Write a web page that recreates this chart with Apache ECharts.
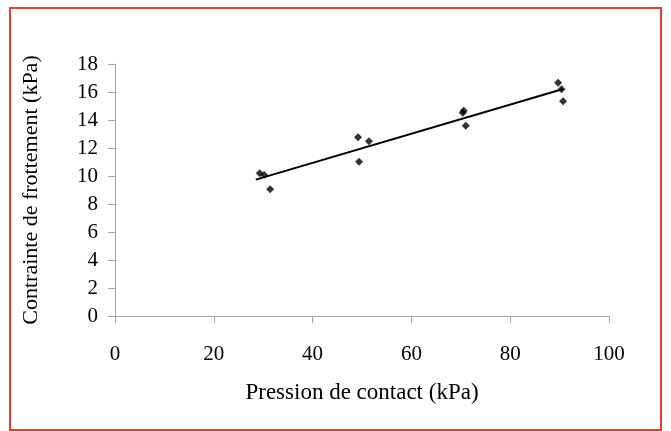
<!DOCTYPE html>
<html>
<head>
<meta charset="utf-8">
<script src="https://cdn.jsdelivr.net/npm/echarts@6/dist/echarts.min.js"></script>
<style>
html,body{margin:0;padding:0;background:#fff;}
#wrap{position:relative;width:671px;height:431px;}
#c{width:671px;height:431px;}
#frame{position:absolute;left:9px;top:7px;width:653px;height:424px;box-sizing:border-box;border:2px solid #e0412b;pointer-events:none;}
</style>
</head>
<body>
<div id="wrap"><div id="c"></div><div id="frame"></div></div>
<script>
const pressure = [29.3, 30.2, 31.4, 49.2, 51.4, 49.4, 70.6, 70.4, 71.0, 89.7, 90.4, 90.7];
const friction = [10.19, 10.07, 9.05, 12.76, 12.48, 11.02, 14.66, 14.52, 13.59, 16.66, 16.19, 15.34];
const trendX = [28.5, 90.7];
const trendY = [9.74, 16.22];
const xTicks = [0, 20, 40, 60, 80, 100];
const yTicks = [0, 2, 4, 6, 8, 10, 12, 14, 16, 18];
const xName = 'Pression de contact (kPa)';
const yName = 'Contrainte de frottement (kPa)';

const font = '"Liberation Serif", "Times New Roman", serif';
const chart = echarts.init(document.getElementById('c'), null, {renderer: 'canvas'});
chart.setOption({
  animation: false,
  backgroundColor: '#fff',
  grid: {left: 115, right: 62, top: 64, bottom: 115},
  xAxis: {
    type: 'value', min: xTicks[0], max: xTicks[xTicks.length - 1], interval: 20,
    name: xName, nameLocation: 'middle', nameGap: 65,
    nameTextStyle: {fontFamily: font, fontSize: 23, color: '#000'},
    axisLine: {show: true, lineStyle: {color: '#a6a6a6', width: 1}},
    axisTick: {show: true, inside: false, length: 7, lineStyle: {color: '#a6a6a6'}},
    axisLabel: {fontFamily: font, fontSize: 21, color: '#000', margin: 28},
    splitLine: {show: false}
  },
  yAxis: {
    type: 'value', min: yTicks[0], max: yTicks[yTicks.length - 1], interval: 2,
    name: yName, nameLocation: 'middle', nameGap: 73, nameRotate: 90,
    nameTextStyle: {fontFamily: font, fontSize: 22, color: '#000'},
    axisLine: {show: true, lineStyle: {color: '#a6a6a6', width: 1}},
    axisTick: {show: true, inside: false, length: 7, lineStyle: {color: '#a6a6a6'}},
    axisLabel: {fontFamily: font, fontSize: 21, color: '#000', margin: 17},
    splitLine: {show: false}
  },
  series: [
    {
      type: 'scatter',
      data: pressure.map((x, i) => [x, friction[i]]),
      symbol: 'diamond', symbolSize: 8,
      itemStyle: {color: '#000'},
      z: 3
    },
    {
      type: 'line',
      data: trendX.map((x, i) => [x, trendY[i]]),
      showSymbol: false, symbol: 'none',
      lineStyle: {color: '#000', width: 2},
      z: 2
    }
  ]
});
</script>
</body>
</html>
